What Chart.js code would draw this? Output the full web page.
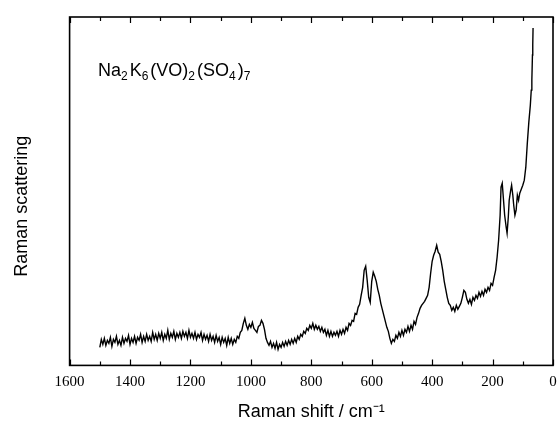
<!DOCTYPE html>
<html lang="en">
<head>
  <meta charset="UTF-8" />
  <title>Raman spectrum · Na2K6(VO)2(SO4)7</title>
  <script src="https://cdn.jsdelivr.net/npm/chart.js@4.4.3/dist/chart.umd.js"></script>
  <style>
    *{box-sizing:border-box;margin:0;padding:0}
    body{background:#fff;width:559px;height:424px;overflow:hidden}
    canvas{display:block}
  </style>
</head>
<body>
  <canvas id="ramanChart" width="559" height="424"></canvas>

  <script>
    /* ==== DATA (arbitrary intensity units) ==== */
    const shift = [
      1500,1495,1490,1485,1480,1475,1470,1465,1460,1455,1450,1445,1440,1435,1430,1425,1420,1415,1410,1405,
      1400,1395,1390,1385,1380,1375,1370,1365,1360,1355,1350,1345,1340,1335,1330,1325,1320,1315,1310,1305,
      1300,1295,1290,1285,1280,1275,1270,1265,1260,1255,1250,1245,1240,1235,1230,1225,1220,1215,1210,1205,
      1200,1195,1190,1185,1180,1175,1170,1165,1160,1155,1150,1145,1140,1135,1130,1125,1120,1115,1110,1105,
      1100,1095,1090,1085,1080,1075,1070,1065,1060,1055,1050,1045,1040,1035,1030,1025,1020,1015,1010,1005,
      1000,995,990,985,980,975,970,965,960,955,950,945,940,935,930,925,920,915,910,905,
      900,895,890,885,880,875,870,865,860,855,850,845,840,835,830,825,820,815,810,805,
      800,795,790,785,780,775,770,765,760,755,750,745,740,735,730,725,720,715,710,705,
      700,695,690,685,680,675,670,665,660,655,650,645,640,635,630,625,620,615,610,605,
      600,595,590,585,580,575,570,565,560,555,550,545,540,535,530,525,520,515,510,505,
      500,495,490,485,480,475,470,465,460,455,450,445,440,435,430,425,420,415,410,405,
      400,395,390,385,380,375,370,365,360,355,350,345,340,335,330,325,320,315,310,305,
      300,295,290,285,280,275,270,265,260,255,250,245,240,235,230,225,220,215,210,205,
      200,195,190,185,180,175,172,168,165,160,155,152,148,145,140,137,133,130,126,122,
      118,114,110,105,100,95,90,85,80,75,72,70,68,67,66
    ];
    const intensity = [
      18,26,21,27,20,25,22,28,19,26,23,29,21,25,20,28,22,27,24,30,
      21,27,23,29,22,28,25,31,23,29,24,31,25,29,24,33,26,31,25,32,
      27,33,25,31,27,35,26,32,28,34,26,32,28,33,27,34,29,33,27,35,
      28,32,27,33,26,31,28,33,25,31,26,30,24,31,25,29,23,30,24,28,
      21,28,23,27,20,28,22,27,21,26,23,29,27,33,35,42,47,40,36,41,
      38,43,37,35,33,39,40,45,42,36,27,23,20,24,18,22,17,23,16,21,
      18,23,19,24,20,25,21,26,22,27,23,29,26,31,29,34,32,37,35,40,
      37,42,36,40,36,39,34,38,33,36,30,35,29,34,29,33,30,34,29,35,
      31,36,32,38,35,42,40,45,44,52,51,58,61,70,78,95,99,85,68,63,
      84,93,89,84,76,70,62,56,50,44,38,34,27,22,26,24,30,27,33,29,
      35,30,36,33,39,34,40,36,44,41,48,52,57,60,62,64,67,70,78,92,
      104,110,114,120,113,111,104,95,84,76,68,62,60,55,58,54,60,56,59,62,
      68,75,73,66,62,66,61,68,65,70,67,73,69,74,70,76,73,78,75,82,
      80,88,95,108,125,150,178,182,170,150,138,132,148,165,175,180,170,160,150,155,
      170,165,172,176,180,185,198,222,243,260,275,285,310,320,337
    ];
    const xTickLabels = [1600,1400,1200,1000,800,600,400,200,0];

    const points = shift.map((x,i)=>({x, y:intensity[i]}));

    /* frame + inward ticks + formula label */
    const framePlugin = {
      id:'frame',
      afterDraw(chart){
        const {ctx, chartArea:a, scales:{x}} = chart;
        ctx.save();
        ctx.strokeStyle = '#000';
        ctx.lineWidth = 1.6;
        ctx.strokeRect(a.left, a.top, a.right-a.left, a.bottom-a.top);
        ctx.lineWidth = 1.2;
        x.ticks.forEach(t=>{
          const px = Math.round(x.getPixelForValue(t.value))+0.5;
          const len = (t.value % 200 === 0) ? 6 : 4;
          ctx.beginPath();
          ctx.moveTo(px, a.bottom); ctx.lineTo(px, a.bottom-len);
          ctx.moveTo(px, a.top);    ctx.lineTo(px, a.top+len);
          ctx.stroke();
        });
        // formula
        ctx.fillStyle = '#000';
        ctx.textBaseline = 'alphabetic';
        const parts = [['Na',0],['2',1],['K',0],['6',1],['(VO)',0],['2',1],['(SO',0],['4',1],[')',0],['7',1]];
        let cx = 98; const by = 76;
        parts.forEach(([s,sub])=>{
          ctx.font = sub ? '12px "Liberation Sans", Arial, sans-serif' : '18px "Liberation Sans", Arial, sans-serif';
          ctx.fillText(s, cx, by + (sub ? 4 : 0));
          cx += ctx.measureText(s).width + (sub ? 2 : 0);
        });
        ctx.restore();
      }
    };

    new Chart(document.getElementById('ramanChart').getContext('2d'), {
      type:'line',
      data:{datasets:[{
        data:points, borderColor:'#000', borderWidth:1.4,
        pointRadius:0, tension:0, fill:false
      }]},
      options:{
        responsive:false, animation:false,
        layout:{padding:{left:0, right:6, top:17, bottom:0}},
        plugins:{legend:{display:false}, tooltip:{enabled:false}},
        scales:{
          x:{
            type:'linear', reverse:true, min:0, max:1600,
            afterFit(scale){ scale.paddingRight = 0; },
            grid:{display:false, drawTicks:false},
            border:{display:false},
            ticks:{
              stepSize:100, padding:8, color:'#000', maxRotation:0, autoSkip:false,
              font:{family:'"Liberation Serif", "Times New Roman", serif', size:15},
              callback:v => xTickLabels.includes(v) ? String(v) : ''
            },
            title:{
              display:true, text:'Raman shift / cm⁻¹', color:'#000',
              font:{family:'"Liberation Sans", Arial, sans-serif', size:18},
              padding:{top:2, bottom:1}
            }
          },
          y:{
            min:0, max:348,
            grid:{display:false, drawTicks:false},
            border:{display:false},
            ticks:{display:false},
            title:{
              display:true, text:'Raman scattering      ', color:'#000',
              font:{family:'"Liberation Sans", Arial, sans-serif', size:18},
              padding:{top:11, bottom:37}
            }
          }
        }
      },
      plugins:[framePlugin]
    });
  </script>
</body>
</html>
